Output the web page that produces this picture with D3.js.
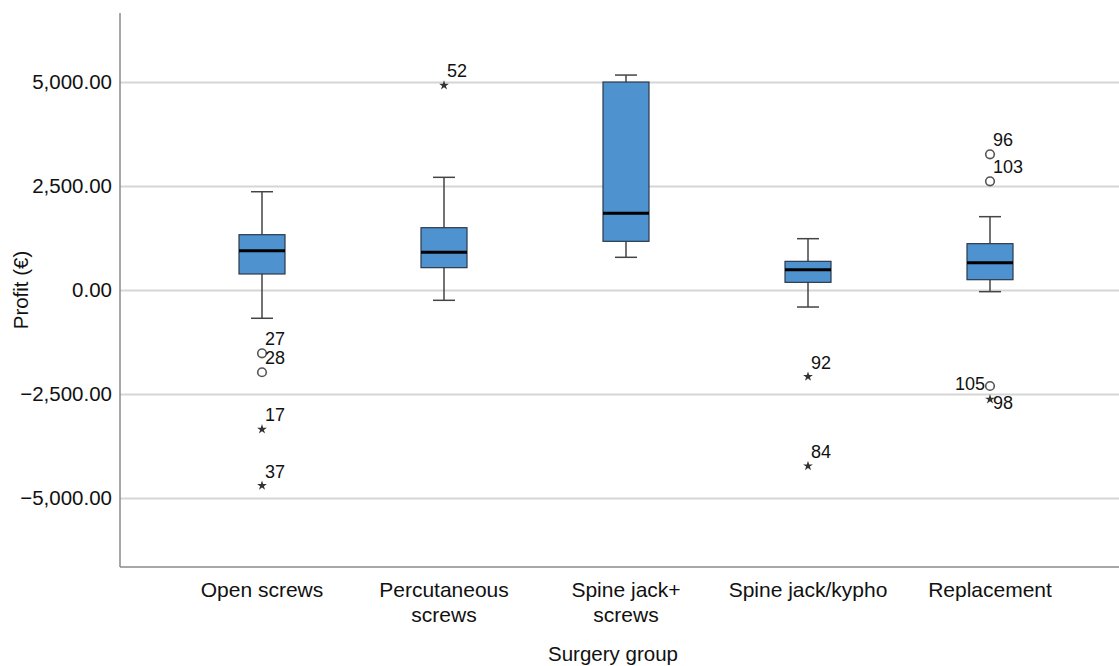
<!DOCTYPE html>
<html>
<head>
<meta charset="utf-8">
<script src="https://cdn.jsdelivr.net/npm/d3@7"></script>
<style>
  body { margin: 0; background: #fff; }
  svg { font-family: "Liberation Sans", Arial, sans-serif; }
</style>
</head>
<body>
<div id="chart"></div>
<script>
// box plot values
var groups = ["Open screws", "Percutaneous screws", "Spine jack+ screws", "Spine jack/kypho", "Replacement"];
var group_lines = [["Open screws"], ["Percutaneous", "screws"], ["Spine jack+", "screws"], ["Spine jack/kypho"], ["Replacement"]];
var whisker_low  = [-680, -248, 786, -409, -40];
var q1           = [385, 537, 1170, 184, 248];
var medians      = [945, 906, 1843, 488, 657];
var q3           = [1330, 1498, 5000, 689, 1114];
var whisker_high = [2363, 2709, 5168, 1234, 1763];
// kind: o = outlier (circle), x = extreme (star); pos = label placement
var outliers = [
    {group: "Open screws", value: -1522, id: "27", kind: "o", pos: "ur"},
    {group: "Open screws", value: -1978, id: "28", kind: "o", pos: "ur"},
    {group: "Open screws", value: -3349, id: "17", kind: "x", pos: "ur"},
    {group: "Open screws", value: -4704, id: "37", kind: "x", pos: "ur"},
    {group: "Percutaneous screws", value: 4920, id: "52", kind: "x", pos: "ur"},
    {group: "Spine jack/kypho", value: -2083, id: "92", kind: "x", pos: "ur"},
    {group: "Spine jack/kypho", value: -4231, id: "84", kind: "x", pos: "ur"},
    {group: "Replacement", value: 3261, id: "96", kind: "o", pos: "ur"},
    {group: "Replacement", value: 2612, id: "103", kind: "o", pos: "ur"},
    {group: "Replacement", value: -2308, id: "105", kind: "o", pos: "l"},
    {group: "Replacement", value: -2627, id: "98", kind: "x", pos: "dr"}
];
var y_ticks = [-5000, -2500, 0, 2500, 5000];

var width = 1119, height = 666;
var plot_l = 120, plot_r = 1119, plot_t = 13, plot_b = 567;
var box_w = 46, cap_w = 22;

var svg = d3.select("#chart").append("svg")
    .attr("width", width)
    .attr("height", height);

var x = d3.scaleBand(groups, [171, 1081]);
var y = d3.scaleLinear([-6660, 6660], [plot_b, plot_t]);
var cx = g => x(g) + x.bandwidth()/2;

// gridlines + tick labels
var yaxis = svg.append("g")
    .attr("transform", "translate(" + plot_l + ",0)")
    .call(d3.axisLeft(y)
	  .tickValues(y_ticks)
	  .tickSize(-(plot_r - plot_l))
	  .tickPadding(8)
	  .tickFormat(d3.format(",.2f")));
yaxis.select(".domain").remove();
yaxis.selectAll(".tick line")
    .style("stroke", "#d6d6d6")
    .style("stroke-width", "2px");
yaxis.selectAll(".tick text")
    .style("font-size", "20.5px")
    .style("fill", "#111");

// axis lines
svg.append("line")
    .attr("x1", plot_l).attr("x2", plot_l)
    .attr("y1", plot_t).attr("y2", plot_b)
    .style("stroke", "#8a8a8a").style("stroke-width", "1.5px");
svg.append("line")
    .attr("x1", plot_l).attr("x2", plot_r)
    .attr("y1", plot_b).attr("y2", plot_b)
    .style("stroke", "#8a8a8a").style("stroke-width", "1.5px");

// category labels
var xaxis = svg.append("g")
    .attr("transform", "translate(0," + plot_b + ")")
    .call(d3.axisBottom(x).tickSize(0).tickPadding(0));
xaxis.select(".domain").remove();
xaxis.selectAll(".tick text")
    .style("font-size", "21px")
    .style("fill", "#111")
    .attr("dy", null)
    .attr("y", 0)
    .text(null)
    .each(function(d) {
	var lines = group_lines[groups.indexOf(d)];
	d3.select(this).selectAll("tspan")
	    .data(lines)
	    .join("tspan")
	    .attr("x", 0)
	    .attr("y", (l, i) => 30 + i*25)
	    .text(l => l);
    });

// axis titles
svg.append("text")
    .attr("transform", "translate(28," + y(0) + ") rotate(-90)")
    .attr("text-anchor", "middle")
    .style("font-size", "20.5px")
    .style("fill", "#111")
    .text("Profit (€)");
svg.append("text")
    .attr("x", 613).attr("y", 661)
    .attr("text-anchor", "middle")
    .style("font-size", "20.5px")
    .style("fill", "#111")
    .text("Surgery group");

// boxes
var stats = groups.map((g, i) => ({group: g, lo: whisker_low[i], q1: q1[i], med: medians[i], q3: q3[i], hi: whisker_high[i]}));
var box = svg.selectAll(".box")
    .data(stats)
    .enter().append("g")
    .attr("class", "box");
box.append("line")
    .attr("x1", d => cx(d.group)).attr("x2", d => cx(d.group))
    .attr("y1", d => y(d.hi)).attr("y2", d => y(d.lo))
    .style("stroke", "#444").style("stroke-width", "1.5px");
box.selectAll(".cap")
    .data(d => [d.lo, d.hi].map(v => ({group: d.group, v: v})))
    .enter().append("line")
    .attr("class", "cap")
    .attr("x1", d => cx(d.group) - cap_w/2).attr("x2", d => cx(d.group) + cap_w/2)
    .attr("y1", d => y(d.v)).attr("y2", d => y(d.v))
    .style("stroke", "#444").style("stroke-width", "1.5px");
box.append("rect")
    .attr("x", d => cx(d.group) - box_w/2)
    .attr("y", d => y(d.q3))
    .attr("width", box_w)
    .attr("height", d => y(d.q1) - y(d.q3))
    .style("fill", "#4f92d0")
    .style("stroke", "#2b3a4a")
    .style("stroke-width", "1.2px");
box.append("line")
    .attr("x1", d => cx(d.group) - box_w/2).attr("x2", d => cx(d.group) + box_w/2)
    .attr("y1", d => y(d.med)).attr("y2", d => y(d.med))
    .style("stroke", "#000").style("stroke-width", "3px");

// outliers
var marks = svg.selectAll(".outlier")
    .data(outliers)
    .enter().append("g")
    .attr("class", "outlier")
    .attr("transform", d => "translate(" + cx(d.group) + "," + y(d.value) + ")");
marks.filter(d => d.kind == "o").append("circle")
    .attr("r", 4.3)
    .style("fill", "#fff")
    .style("stroke", "#555")
    .style("stroke-width", "1.6px");
marks.filter(d => d.kind == "x").append("path")
    .attr("d", d3.symbol(d3.symbolStar, 30))
    .style("fill", "#333");
marks.append("text")
    .attr("x", d => d.pos == "l" ? -5 : 3)
    .attr("y", d => d.pos == "l" ? 4 : d.pos == "dr" ? 10 : -8)
    .attr("text-anchor", d => d.pos == "l" ? "end" : "start")
    .style("font-size", "18px")
    .style("fill", "#111")
    .text(d => d.id);
</script>
</body>
</html>
